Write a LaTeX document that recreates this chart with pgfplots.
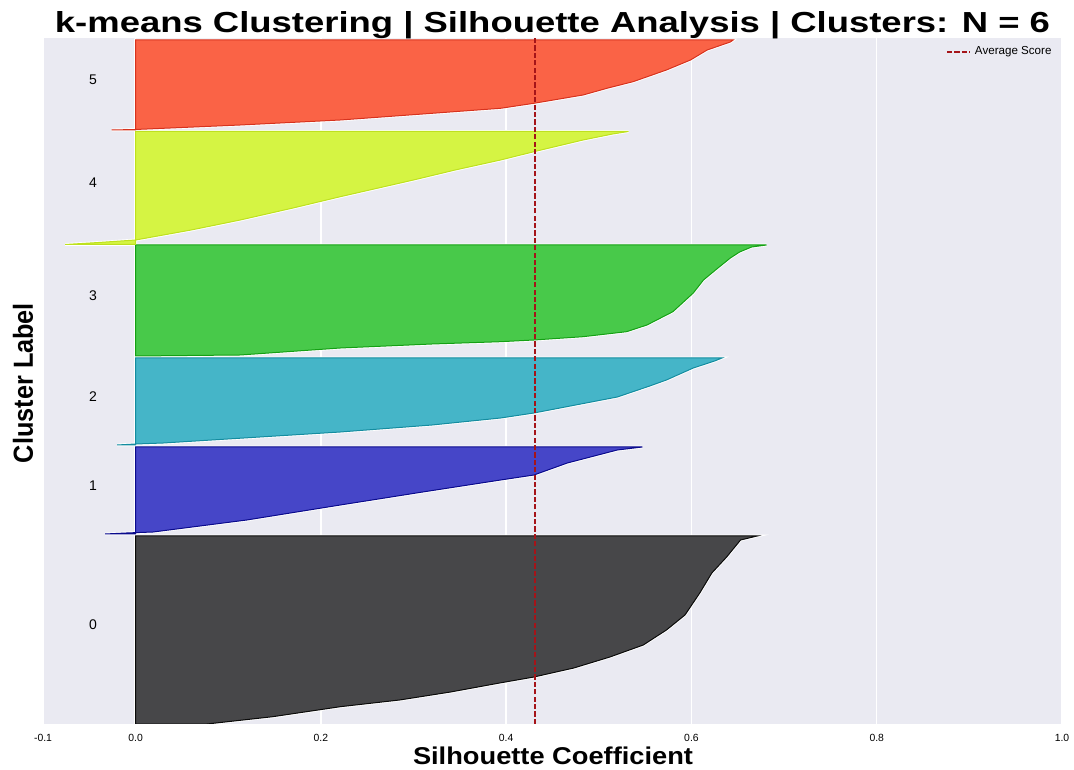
\documentclass[border=0pt]{standalone}
\usepackage{pgfplots}
\pgfplotsset{compat=1.18}
\usepackage{pgfplotstable}
\usepackage{fontspec}
\setmainfont{Liberation Sans}
\usepackage{graphicx}

\definecolor{bgc}{RGB}{234,234,242}
\definecolor{cz}{RGB}{71,71,73}
\definecolor{czd}{RGB}{10,10,10}
\definecolor{co}{RGB}{70,70,200}
\definecolor{cod}{RGB}{10,10,140}
\definecolor{ct}{RGB}{69,181,200}
\definecolor{ctd}{RGB}{20,140,160}
\definecolor{cth}{RGB}{72,201,74}
\definecolor{cthd}{RGB}{20,160,20}
\definecolor{cf}{RGB}{213,244,67}
\definecolor{cfd}{RGB}{190,225,30}
\definecolor{cv}{RGB}{250,99,70}
\definecolor{cvd}{RGB}{215,50,30}
\definecolor{avg}{RGB}{165,20,25}

\pgfplotstableread{
x y
0 0
0.077 0
0.148 7.3
0.221 17.3
0.285 24
0.34 32
0.393 41
0.430 47
0.473 56
0.512 67
0.548 79
0.573 94
0.593 109
0.609 131
0.622 151
0.638 167
0.653 184
0.671 188
0 188
}\cZero

\pgfplotstableread{
x y
0 190
-0.033 190
-0.01 191
0.019 192
0.12 204
0.221 219
0.31 232
0.394 244
0.430 249
0.466 261
0.52 274
0.547 277
0 277
}\cOne

\pgfplotstableread{
x y
0 279
-0.02 279
0.0 280
0.03 281
0.221 292
0.32 299
0.394 306
0.430 311
0.475 319
0.52 327
0.555 338
0.573 344
0.602 356
0.625 363
0.633 366
0 366
}\cTwo

\pgfplotstableread{
x y
0 368
0.113 369
0.221 376
0.32 380
0.394 382.3
0.430 384
0.483 387.3
0.53 392.3
0.552 399
0.580 412.3
0.602 431
0.613 444
0.626 454
0.642 466
0.652 472
0.665 477
0.681 479
0 479
}\cThree

\pgfplotstableread{
x y
0 479.5
-0.076 479.5
-0.04 481.5
0.0 484
0.06 494
0.113 504
0.17 516
0.221 527.3
0.30 544
0.345 554
0.394 564
0.430 572.3
0.483 584
0.515 590
0.532 592.5
0 592.5
}\cFour

\pgfplotstableread{
x y
0 594
-0.026 594
0.0 594.5
0.113 599
0.221 604
0.31 610
0.394 615.7
0.430 620.7
0.483 629
0.51 636
0.537 642.3
0.573 654
0.599 664
0.617 674
0.642 682
0.645 684
0 684
}\cFive

\begin{document}
\begin{tikzpicture}
\begin{axis}[
  at={(0,0)}, anchor=south west,
  scale only axis, width=509.5bp, height=343bp,
  xmin=-0.1, xmax=1.0, ymin=0, ymax=686,
  axis background/.style={fill=bgc},
  axis line style={draw=none},
  xtick={-0.1,0,0.2,0.4,0.6,0.8,1.0},
  xticklabels={-0.1,0.0,0.2,0.4,0.6,0.8,1.0},
  ytick=\empty,
  major tick length=0pt,
  xmajorgrids,
  grid style={white, line width=0.7bp},
  xticklabel style={font=\fontsize{5.2bp}{6bp}\selectfont, anchor=base, yshift=-8.5bp, inner sep=0pt},
  legend style={draw=none, fill=none, at={(0.994,0.98)}, anchor=east,
    font=\fontsize{5.8bp}{6bp}\selectfont, inner sep=0pt},
  legend image code/.code={\draw[#1] (0bp,0bp) -- (11.5bp,0bp);},
]
% white halos
\addplot[forget plot, draw=white, line width=1.4bp] table {\cZero} -- cycle;
\addplot[forget plot, draw=white, line width=1.4bp] table {\cOne} -- cycle;
\addplot[forget plot, draw=white, line width=1.4bp] table {\cTwo} -- cycle;
\addplot[forget plot, draw=white, line width=1.4bp] table {\cThree} -- cycle;
\addplot[forget plot, draw=white, line width=1.4bp] table {\cFour} -- cycle;
\addplot[forget plot, draw=white, line width=1.4bp] table {\cFive} -- cycle;
% fills
\addplot[forget plot, fill=cz, draw=czd, line width=0.5bp] table {\cZero} -- cycle;
\addplot[forget plot, fill=co, draw=cod, line width=0.5bp] table {\cOne} -- cycle;
\addplot[forget plot, fill=ct, draw=ctd, line width=0.5bp] table {\cTwo} -- cycle;
\addplot[forget plot, fill=cth, draw=cthd, line width=0.5bp] table {\cThree} -- cycle;
\addplot[forget plot, fill=cf, draw=cfd, line width=0.5bp] table {\cFour} -- cycle;
\addplot[forget plot, fill=cv, draw=cvd, line width=0.5bp] table {\cFive} -- cycle;
% average
\addplot[avg, line width=1bp, dash pattern=on 2.6bp off 1.1bp] coordinates {(0.431,0) (0.431,686)};
\addlegendentry{Average Score}
% cluster labels
\node[font=\fontsize{7bp}{8bp}\selectfont] at (axis cs:-0.046,99) {0};
\node[font=\fontsize{7bp}{8bp}\selectfont] at (axis cs:-0.046,238) {1};
\node[font=\fontsize{7bp}{8bp}\selectfont] at (axis cs:-0.046,327) {2};
\node[font=\fontsize{7bp}{8bp}\selectfont] at (axis cs:-0.046,428) {3};
\node[font=\fontsize{7bp}{8bp}\selectfont] at (axis cs:-0.046,541) {4};
\node[font=\fontsize{7bp}{8bp}\selectfont] at (axis cs:-0.046,644) {5};
\end{axis}
\node[anchor=base, inner sep=0pt] at (254.75bp,345.6bp) {\resizebox{497.5bp}{10.5bp}{\bfseries k-means Clustering | Silhouette Analysis | Clusters: N = 6}};
\node[anchor=base, inner sep=0pt] at (255bp,-20.15bp) {\resizebox{140bp}{8.8bp}{\bfseries Silhouette Coefficient}};
\node[anchor=base, inner sep=0pt, rotate=90] at (-5bp,170.5bp) {\resizebox{80bp}{10bp}{\bfseries Cluster Label}};
\pgfresetboundingbox
\path[use as bounding box] (-21.5bp,-23bp) rectangle (515.5bp,362bp);
\end{tikzpicture}
\end{document}
